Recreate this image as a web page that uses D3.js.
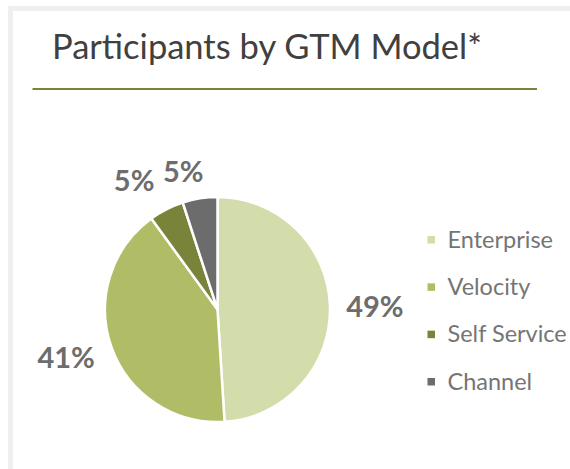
<!DOCTYPE html>
<html>
<head>
<meta charset="utf-8">
<script src="https://cdn.jsdelivr.net/npm/d3@7"></script>
<style>
  html, body { margin: 0; padding: 0; background: #ffffff; }
  svg { display: block; }
</style>
</head>
<body>
<svg id="chart" width="570" height="469"></svg>
<script>
// ---- data ----
const categories = ["Enterprise", "Velocity", "Self Service", "Channel"];
const values = [49, 41, 5, 5];
const labels = ["49%", "41%", "5%", "5%"];
const title = "Participants by GTM Model*";

// ---- styling / layout ----
const colors = ["#d3dcab", "#b1bc67", "#7a833a", "#6c6c6c"];
const W = 570, H = 469;
const cx = 217.5, cy = 309.5, R = 112.5;
const labelR = 155;
const labelNudge = [[2.5, 1.5], [-5.5, -4.5], [-13, 9.5], [-10, 15.5]];

const svg = d3.select("#chart");

// frame (light grey border on top and left)
svg.append("rect").attr("x", 10.5).attr("y", 8.5).attr("width", W + 20).attr("height", H + 20)
  .attr("fill", "#ffffff").attr("stroke", "#efefef").attr("stroke-width", 5);

// title
svg.append("text").attr("x", 52).attr("y", 59)
  .attr("font-family", "Lato, 'Open Sans', sans-serif").attr("font-size", 34.5)
  .attr("fill", "#404040").text(title);

// rule
svg.append("line").attr("x1", 32.5).attr("x2", 537).attr("y1", 89).attr("y2", 89)
  .attr("stroke", "#7a833a").attr("stroke-width", 2);

// pie
const pie = d3.pie().sort(null).value(d => d)(values);
const arc = d3.arc().innerRadius(0).outerRadius(R);
const labelArc = d3.arc().innerRadius(labelR).outerRadius(labelR);

const g = svg.append("g").attr("transform", `translate(${cx},${cy})`);
g.selectAll("path.slice").data(pie).join("path")
  .attr("class", "slice")
  .attr("d", arc)
  .attr("fill", (d, i) => colors[i])
  .attr("stroke", "#ffffff").attr("stroke-width", 2.5).attr("stroke-linejoin", "round");

g.selectAll("text.lbl").data(pie).join("text")
  .attr("class", "lbl")
  .attr("x", (d, i) => labelArc.centroid(d)[0] + labelNudge[i][0])
  .attr("y", (d, i) => labelArc.centroid(d)[1] + labelNudge[i][1])
  .attr("dy", "0.36em")
  .attr("text-anchor", "middle")
  .attr("font-family", "Lato, 'Open Sans', sans-serif")
  .attr("font-weight", "bold").attr("font-size", 29)
  .attr("fill", "#6d6d6d")
  .text((d, i) => labels[i]);

// legend
const legendY = d3.scalePoint().domain(categories).range([239.5, 381.5]);
const lg = svg.append("g");
const items = lg.selectAll("g").data(categories).join("g")
  .attr("transform", d => `translate(427.5,${legendY(d)})`);
items.append("rect").attr("x", 0).attr("y", -3.5).attr("width", 7.5).attr("height", 7.5)
  .attr("fill", (d, i) => colors[i]);
items.append("text").attr("x", 20).attr("y", 8)
  .attr("font-family", "Lato, 'Open Sans', sans-serif").attr("font-size", 23.5)
  .attr("fill", "#757575").text(d => d);
</script>
</body>
</html>
